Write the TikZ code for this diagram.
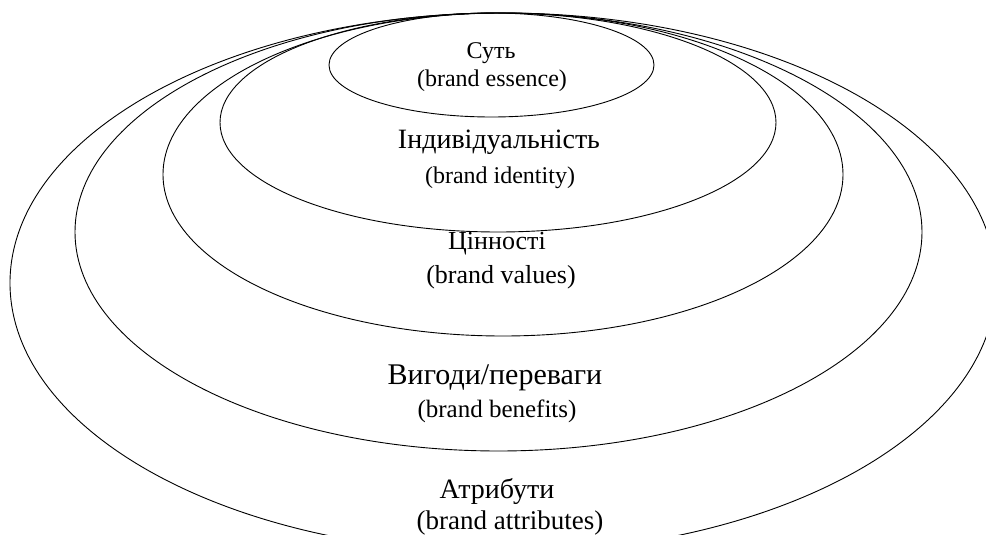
\documentclass[tikz,border=0pt]{standalone}
\usepackage{fontspec}
\setmainfont{Liberation Serif}
\begin{document}
\begin{tikzpicture}[x=1pt,y=-1pt,
  ring/.style={draw=black,line width=0.9pt},
  lab/.style={inner sep=0pt,text=black}]
\useasboundingbox (0,0) rectangle (986,535);
\clip (0,0) rectangle (986,535);
% rings, outer to inner
\draw[ring] (503,283) ellipse [x radius=493pt, y radius=270pt];
\draw[ring] (498.5,232) ellipse [x radius=423.5pt, y radius=219pt];
\draw[ring] (503,174.5) ellipse [x radius=340pt, y radius=161.5pt];
\draw[ring] (498,122.5) ellipse [x radius=278pt, y radius=109.5pt];
\draw[ring] (491.5,65) ellipse [x radius=162.5pt, y radius=52pt];
% labels
\node[lab,font=\fontsize{24}{28}\selectfont] (ess1) at (491,53) {Суть};
\node[lab,font=\fontsize{24}{28}\selectfont] (ess2) at (492,81) {(brand essence)};
\node[lab,font=\fontsize{28}{32}\selectfont] (id1) at (499,142) {Індивідуальність};
\node[lab,font=\fontsize{24}{28}\selectfont] (id2) at (500,178) {(brand identity)};
\node[lab,font=\fontsize{26}{30}\selectfont] (val1) at (497,244) {Цінності};
\node[lab,font=\fontsize{26}{30}\selectfont] (val2) at (501,277) {(brand values)};
\node[lab,font=\fontsize{30}{34}\selectfont] (ben1) at (495,378) {Вигоди/переваги};
\node[lab,font=\fontsize{25}{29}\selectfont] (ben2) at (497,411) {(brand benefits)};
\node[lab,font=\fontsize{28}{32}\selectfont] (att1) at (497,491) {Атрибути};
\node[lab,font=\fontsize{27}{31}\selectfont] (att2) at (510,523) {(brand attributes)};
\end{tikzpicture}
\end{document}
